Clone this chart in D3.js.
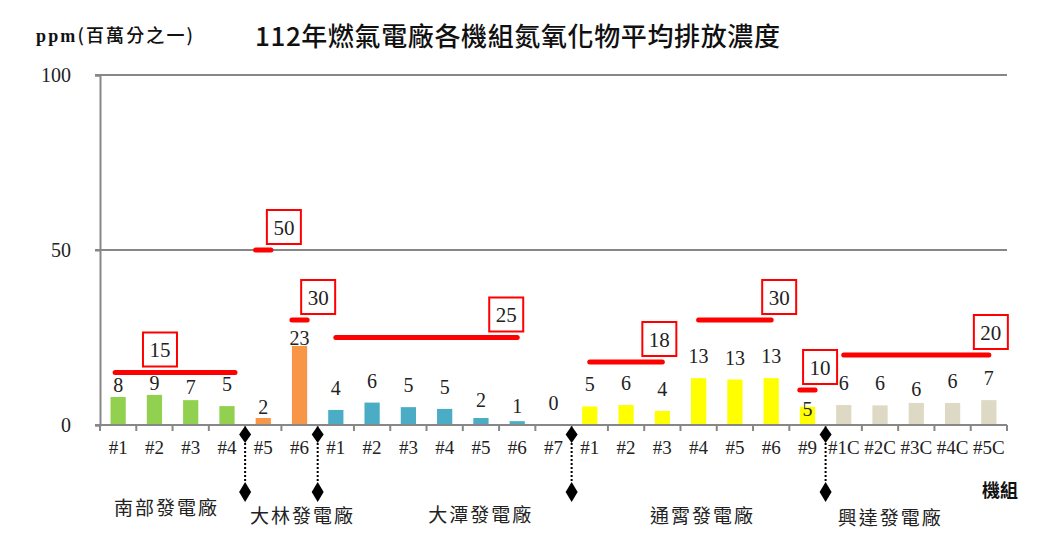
<!DOCTYPE html>
<html><head><meta charset="utf-8">
<script src="https://cdn.jsdelivr.net/npm/d3@7"></script>
<style>
html,body{margin:0;padding:0;background:#fff;}
svg{display:block;}
</style></head>
<body><svg id="c" width="1039" height="552"></svg>
<script>
// ---- data ----
const title = "112年燃氣電廠各機組氮氧化物平均排放濃度";
const yTitle = "ppm(百萬分之一)";
const xTitle = "機組";
const plants = ["南部發電廠","大林發電廠","大潭發電廠","通霄發電廠","興達發電廠"];
const plantColors = ["#92D050","#F79646","#4BACC6","#FFFF00","#DDD9C4"];
const units = ["#1","#2","#3","#4","#5","#6","#1","#2","#3","#4","#5","#6","#7","#1","#2","#3","#4","#5","#6","#9","#1C","#2C","#3C","#4C","#5C"];
const unitPlant = [0,0,0,0,1,1,2,2,2,2,2,2,2,3,3,3,3,3,3,3,4,4,4,4,4];
const values = [8.0,8.6,7.1,5.4,2.0,22.6,4.3,6.4,5.1,4.6,2.0,1.1,0,5.3,5.7,4.0,13.4,13.0,13.4,5.2,5.7,5.6,6.3,6.3,7.1];
const yTicks = [0,50,100];
const stdValues = [15,50,30,25,18,30,10,20];
const stdFrom = [0,4,5,6,13,16,19,20];
const stdTo   = [3,4,5,11,15,18,19,24];

// ---- layout (not data) ----
const boxDx = [-75,13,11,-11,-3,8,5,2];
const stdExtL = [3,0,0,0,0,0,0,0];
const stdExtR = [8,0,0,0,0,0,0,0];
const plantLabelDx = [-7,20,35,3,-27];
const plantLabelDy = [-8,0,-1,0,2];
const labelLiftDefault = 22;
const labelLift = {0:12,1:12,2:13,4:11,5:8,10:18,11:15,19:-2,22:14};

const svg = d3.select("#c");
const x = d3.scaleBand().domain(d3.range(units.length)).range([100,1007]).padding(0);
const y = d3.scaleLinear().domain([0,100]).range([425,75]);
const bw = x.bandwidth()*0.42;
const cx = i => x(i) + x.bandwidth()/2;
const serif = "'Liberation Serif','Times New Roman',serif";
const cjk = "'Noto Sans CJK TC','Noto Sans CJK SC',sans-serif";
const grey = "#878787";

// gridlines
svg.append("g").selectAll("line").data(yTicks.filter(d=>d>0)).join("line")
  .attr("x1",95).attr("x2",1007).attr("y1",d=>y(d)).attr("y2",d=>y(d))
  .attr("stroke",grey).attr("stroke-width",2);

// y axis
const yAxis = svg.append("g").attr("transform","translate(100,0)")
  .call(d3.axisLeft(y).tickValues(yTicks).tickSize(5).tickPadding(24));
yAxis.select(".domain").attr("stroke",grey).attr("stroke-width",2);
yAxis.selectAll(".tick line").attr("stroke",grey).attr("stroke-width",2);
yAxis.selectAll(".tick text").attr("font-family",serif).attr("font-size",20).attr("fill","#222");

// bars
svg.append("g").selectAll("rect").data(values).join("rect")
  .attr("x",(d,i)=>cx(i)-bw/2).attr("width",bw)
  .attr("y",d=>y(d)).attr("height",d=>y(0)-y(d))
  .attr("fill",(d,i)=>plantColors[unitPlant[i]]);

// x axis
const xAxisG = svg.append("g").attr("transform","translate(0,425)");
xAxisG.append("line").attr("x1",95).attr("x2",1007).attr("stroke",grey).attr("stroke-width",2);
xAxisG.selectAll("line.t").data(d3.range(units.length+1)).join("line").attr("class","t")
  .attr("x1",i=>100+i*x.bandwidth()).attr("x2",i=>100+i*x.bandwidth())
  .attr("y1",0).attr("y2",6).attr("stroke",grey).attr("stroke-width",2);
xAxisG.selectAll("text").data(units).join("text")
  .attr("x",(d,i)=>cx(i)).attr("y",29).attr("text-anchor","middle")
  .attr("font-family",serif).attr("font-size",19).attr("fill","#222").text(d=>d);

// value labels
svg.append("g").selectAll("text").data(values).join("text")
  .attr("x",(d,i)=>cx(i))
  .attr("y",(d,i)=>y(d) - (labelLift[i]!==undefined?labelLift[i]:labelLiftDefault) + 7)
  .attr("text-anchor","middle").attr("font-family",serif).attr("font-size",20).attr("fill","#222")
  .text(d=>Math.round(d));

// standard lines + boxes
const stds = stdValues.map((v,k)=>{
  let x1 = cx(stdFrom[k]) - stdExtL[k], x2 = cx(stdTo[k]) + stdExtR[k];
  if (stdFrom[k]===stdTo[k]) { x1 -= bw/2; x2 += bw/2; }
  return {v,x1,x2,k};
});
const sg = svg.append("g");
sg.selectAll("line").data(stds).join("line")
  .attr("x1",d=>d.x1).attr("x2",d=>d.x2).attr("y1",d=>y(d.v)).attr("y2",d=>y(d.v))
  .attr("stroke","#FF0000").attr("stroke-width",5).attr("stroke-linecap","round");
const bs = 34;
const bx = sg.selectAll("g.b").data(stds).join("g").attr("class","b")
  .attr("transform",d=>`translate(${d.x2+boxDx[d.k]},${y(d.v)-6-bs/2})`);
bx.append("rect").attr("x",-bs/2).attr("y",-bs/2).attr("width",bs).attr("height",bs)
  .attr("fill","#fff").attr("stroke","#FF0000").attr("stroke-width",2);
bx.append("text").attr("text-anchor","middle").attr("y",7.5)
  .attr("font-family",serif).attr("font-size",21).attr("fill","#222").text(d=>d.v);

// separators between plants
const seps = d3.range(1,units.length).filter(i=>unitPlant[i]!==unitPlant[i-1]).map(i=>x(i));
const dia = (cxp,cyp,hw,hh)=>`M${cxp},${cyp-hh}L${cxp+hw},${cyp}L${cxp},${cyp+hh}L${cxp-hw},${cyp}Z`;
const sep = svg.append("g").selectAll("g").data(seps).join("g");
sep.append("line").attr("x1",d=>d).attr("x2",d=>d).attr("y1",443).attr("y2",483)
  .attr("stroke","#000").attr("stroke-width",2).attr("stroke-dasharray","2,2");
sep.append("path").attr("d",d=>dia(d,434.5,6,8.5)).attr("fill","#000");
sep.append("path").attr("d",d=>dia(d,492,6,10)).attr("fill","#000");

// plant labels
svg.append("g").selectAll("text").data(plants).join("text")
  .attr("x",(d,p)=>{const idx=d3.range(units.length).filter(i=>unitPlant[i]===p);
     return (x(idx[0])+x(idx[idx.length-1])+x.bandwidth())/2 + plantLabelDx[p];})
  .attr("y",(d,p)=>523+plantLabelDy[p]).attr("text-anchor","middle")
  .attr("font-family",cjk).attr("font-size",19).attr("textLength",103).attr("lengthAdjust","spacing")
  .attr("fill","#222").text(d=>d);

// titles
svg.append("text").attr("x",255).attr("y",46).attr("font-family",cjk).attr("font-weight",500)
  .attr("font-size",26).attr("textLength",525).attr("lengthAdjust","spacing").attr("fill","#111").text(title);
const yt = svg.append("text").attr("x",36).attr("y",42).attr("font-size",18).attr("fill","#111")
  .attr("textLength",157).attr("lengthAdjust","spacing");
yt.append("tspan").attr("font-family",serif).attr("font-weight",700).text(yTitle.slice(0,3));
yt.append("tspan").attr("font-family",cjk).attr("font-weight",500).text(yTitle.slice(3));
svg.append("text").attr("x",982).attr("y",497).attr("font-family",cjk).attr("font-weight",700)
  .attr("font-size",18).attr("fill","#111").text(xTitle);
</script></body></html>
